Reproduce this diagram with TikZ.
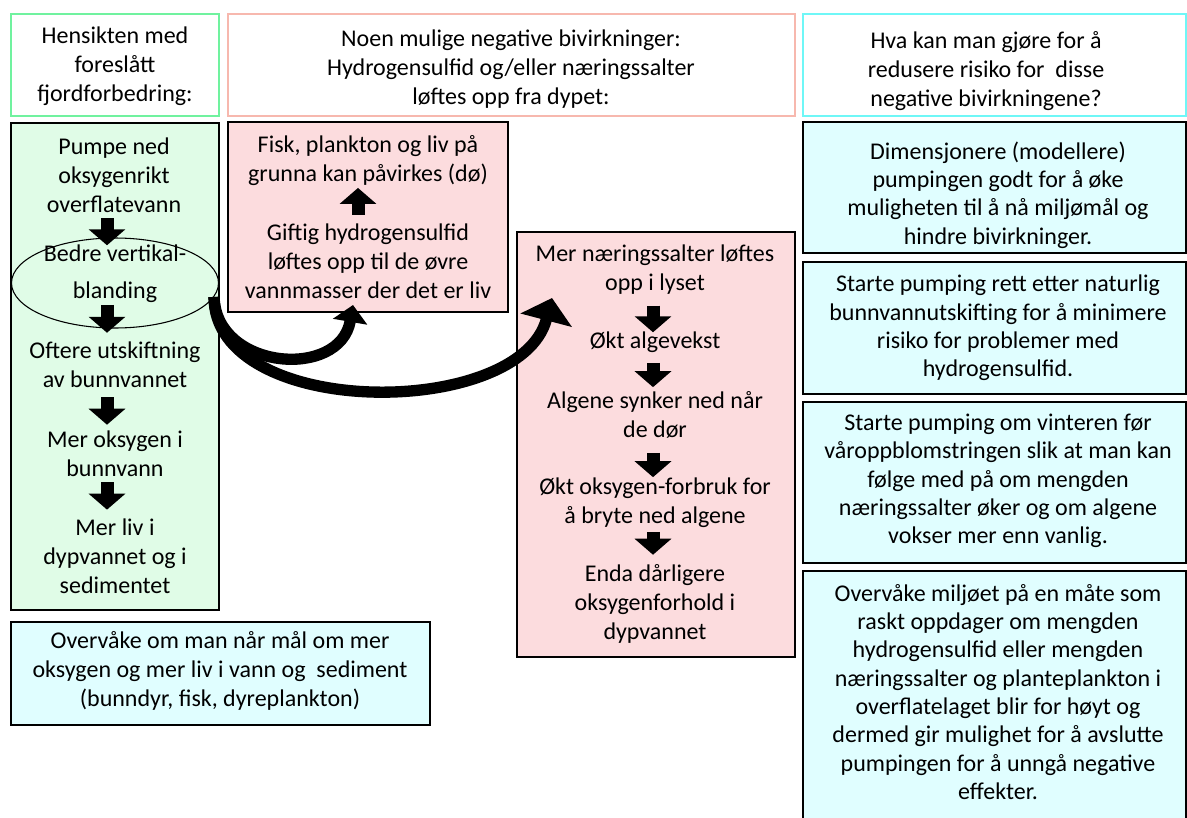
\documentclass[tikz,border=0pt]{standalone}
\usepackage{fontspec}
\setmainfont{Carlito}
\usepackage{tikz}
\usetikzlibrary{shapes.geometric, arrows.meta, positioning, fit}
\definecolor{goalline}{HTML}{70F29F}
\definecolor{harmline}{HTML}{F7B8AE}
\definecolor{fixline}{HTML}{6FF7F7}
\definecolor{goalfill}{HTML}{E0FCE7}
\definecolor{harmfill}{HTML}{FCDCDE}
\definecolor{fixfill}{HTML}{E0FEFF}

\begin{document}
\begin{tikzpicture}[x=0.75pt, y=-0.75pt,
  txt/.style={font=\fontsize{18}{21.75}\selectfont, align=center, inner sep=0pt},
  fixtxt/.style={font=\fontsize{18}{21.25}\selectfont, align=center, inner sep=0pt},
  hdrbox/.style={draw=#1, line width=1.5pt, inner sep=0pt},
  flowbox/.style={draw=black, fill=#1, line width=1.5pt, inner sep=0pt},
  flowarrow/.style={line width=9.75pt, -{Triangle[width=27pt,length=12pt]}},
  bigarrow/.style 2 args={line width=8.5pt, -{Triangle[width=#1,length=#2]}}]
  \useasboundingbox (0,0) rectangle (1187,817);

  %% Header boxes
  \node[hdrbox=goalline, fit={(11,14) (219,116)}] (goalhdr) {};
  \node[hdrbox=harmline, fit={(228,14) (795,116)}] (harmhdr) {};
  \node[hdrbox=fixline, fit={(803,14) (1186,116)}] (fixhdr) {};
  \node[txt] (goalhdrtxt) at (115,66) {Hensikten med\\foreslått\\fjordforbedring:};
  \node[txt] (harmhdrtxt) at (511,69) {Noen mulige negative bivirkninger:\\Hydrogensulfid og/eller næringssalter\\løftes opp fra dypet:};
  \node[txt] (fixhdrtxt) at (986,71) {Hva kan man gjøre for å\\redusere risiko for~ disse\\negative bivirkningene?};

  %% Content boxes
  \node[flowbox=goalfill, fit={(11,123) (219,610)}] (goalbox) {};
  \node[flowbox=harmfill, fit={(228,122) (508,312)}] (harmbox) {};
  \node[flowbox=harmfill, fit={(517,232) (795,657)}] (nutrbox) {};
  \node[flowbox=fixfill, fit={(803,122) (1186,253)}] (fixbox1) {};
  \node[flowbox=fixfill, fit={(803,262) (1186,394)}] (fixbox2) {};
  \node[flowbox=fixfill, fit={(803,402) (1186,563)}] (fixbox3) {};
  \node[flowbox=fixfill, fit={(803,571) (1186,840)}] (fixbox4) {};
  \node[flowbox=fixfill, fit={(11,622) (430,725)}] (monbox) {};

  % left column
  \coordinate (goalaxis) at (107,0);
  \node[txt] (pump) at (114,175) {Pumpe ned\\oksygenrikt\\overflatevann};
  \node[draw, ellipse, line width=0.8pt, inner sep=0pt, minimum width=155.25pt, minimum height=67.5pt] (mix) at (115,283) {};
  \node[txt] (mixtxt) at (115,273.5) {Bedre vertikal-\\[6pt]blanding};
  \node[txt] (exch) at (115,365) {Oftere utskiftning\\av bunnvannet};
  \node[txt] (oxy) at (115,453.5) {Mer oksygen i\\bunnvann};
  \node[txt] (life) at (115,556) {Mer liv i\\dypvannet og i\\sedimentet};
  \draw[flowarrow, shorten <=4.2pt, shorten >=-0.7pt] (pump.south -| goalaxis) -- (mixtxt.north -| goalaxis);
  \draw[flowarrow, shorten <=1.6pt, shorten >=6.8pt] (mixtxt.south -| goalaxis) -- (exch.north -| goalaxis);
  \draw[flowarrow, shorten <=6.8pt, shorten >=4.2pt] (exch.south -| goalaxis) -- (oxy.north -| goalaxis);
  \draw[flowarrow, shorten <=4.2pt, shorten >=6.5pt] (oxy.south -| goalaxis) -- (life.north -| goalaxis);

  % hydrogen sulfide box
  \coordinate (harmaxis) at (358,0);
  \node[txt] (fish) at (368,161) {Fisk, plankton og liv på\\grunna kan påvirkes (dø)};
  \node[txt] (toxic) at (368,261) {Giftig hydrogensulfid\\løftes opp til de øvre\\vannmasser der det er liv};
  \draw[flowarrow, shorten <=6.5pt, shorten >=1.2pt] (toxic.north -| harmaxis) -- (fish.south -| harmaxis);

  % nutrient box
  \coordinate (nutraxis) at (653,0);
  \node[txt] (nutr) at (655,269.5) {Mer næringssalter løftes\\opp i lyset};
  \node[txt] (algae) at (655,342) {Økt algevekst};
  \node[txt] (sink) at (655,415) {Algene synker ned når\\de dør};
  \node[txt] (cons) at (655,503) {Økt oksygen-forbruk for\\å bryte ned algene};
  \node[txt] (worse) at (655,603.5) {Enda dårligere\\oksygenforhold i\\dypvannet};
  \draw[flowarrow, shorten <=8.3pt, shorten >=-0.7pt] (nutr.south -| nutraxis) -- (algae.north -| nutraxis);
  \draw[flowarrow, shorten <=7.6pt, shorten >=3.1pt] (algae.south -| nutraxis) -- (sink.north -| nutraxis);
  \draw[flowarrow, shorten <=10.6pt, shorten >=0.5pt] (sink.south -| nutraxis) -- (cons.north -| nutraxis);
  \draw[flowarrow, shorten <=2.7pt, shorten >=6.8pt] (cons.south -| nutraxis) -- (worse.north -| nutraxis);

  % measures
  \node[fixtxt] (fix1) at (998,195) {Dimensjonere (modellere)\\pumpingen godt for å øke\\muligheten til å nå miljømål og\\hindre bivirkninger.};
  \node[fixtxt] (fix2) at (998,328) {Starte pumping rett etter naturlig\\bunnvannutskifting for å minimere\\risiko for problemer med\\hydrogensulfid.};
  \node[fixtxt] (fix3) at (998,481) {Starte pumping om vinteren før\\våroppblomstringen slik at man kan\\følge med på om mengden\\næringssalter øker og om algene\\vokser mer enn vanlig.};
  \node[fixtxt] (fix4) at (998,692) {Overvåke miljøet på en måte som\\raskt oppdager om mengden\\hydrogensulfid eller mengden\\næringssalter og planteplankton i\\overflatelaget blir for høyt og\\dermed gir mulighet for å avslutte\\pumpingen for å unngå negative\\effekter.};
  \node[txt] (mon) at (220,670.5) {Overvåke om man når mål om mer\\oksygen og mer liv i vann og~ sediment\\(bunndyr, fisk, dyreplankton)};

  %% Curved arrows out of the mixing
  \coordinate (hitA) at (353,305);
  \coordinate (hitB) at (552,298);
  \draw[bigarrow={25.5pt}{12.75pt}] (mix.-8) .. controls (216,370) and (340,380) .. (hitA);
  \draw[bigarrow={39pt}{17.25pt}] (mix.-8) .. controls (214,420) and (520,420) .. (hitB);
\end{tikzpicture}
\end{document}
